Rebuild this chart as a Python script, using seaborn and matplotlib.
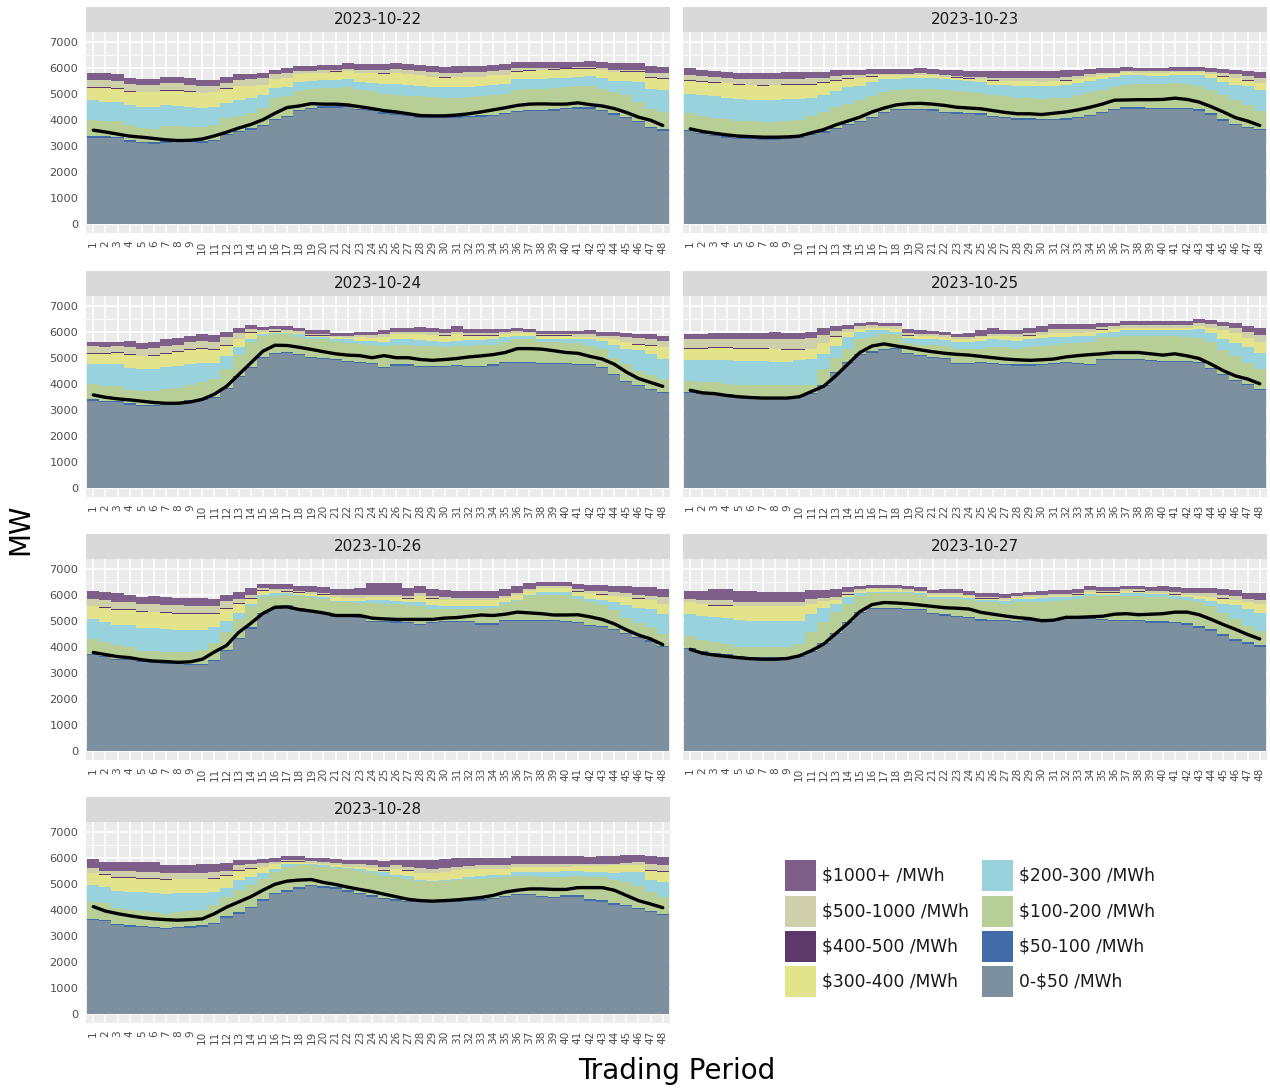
import numpy as np
import pandas as pd
import matplotlib
matplotlib.use("Agg")
import matplotlib.pyplot as plt
from matplotlib.patches import Rectangle
import seaborn as sns

days = ["2023-10-22", "2023-10-23", "2023-10-24", "2023-10-25",
        "2023-10-26", "2023-10-27", "2023-10-28"]
periods = list(range(1, 49))

tiers = ["$1000+ /MWh", "$500-1000 /MWh", "$400-500 /MWh", "$300-400 /MWh",
         "$200-300 /MWh", "$100-200 /MWh", "$50-100 /MWh", "0-$50 /MWh"]
tier_colors = ["#7D5F8A", "#D0CFAB", "#5E376B", "#E3E38C",
               "#98D2DC", "#B7CF96", "#426CA7", "#7C909F"]

# Cumulative offer levels (MW) per day: top edge of each price band
gray_top = [
    [3300,3300,3280,3150,3100,3080,3120,3130,3140,3120,3180,3400, 3530,3620,3750,3980,4100,4330,4400,4450,4460,4480,4360,4330,
     4230,4200,4130,4080,4060,4050,4080,4100,4120,4150,4220,4300, 4330,4340,4350,4400,4420,4430,4330,4200,4050,3900,3680,3580],
    [3550,3450,3380,3300,3250,3250,3230,3230,3250,3280,3400,3500, 3650,3800,3900,4050,4250,4370,4380,4380,4350,4250,4230,4220,
     4200,4100,4050,4000,4000,3980,3980,4000,4050,4150,4250,4380, 4430,4420,4420,4410,4420,4400,4350,4200,3950,3800,3680,3600],
    [3350,3300,3280,3200,3150,3150,3200,3250,3330,3380,3450,3800, 4250,4600,5000,5150,5180,5100,5000,4950,4900,4850,4800,4750,
     4600,4700,4700,4650,4650,4650,4680,4650,4650,4700,4780,4800, 4780,4750,4750,4750,4730,4720,4600,4350,4050,3900,3750,3650],
    [3650,3620,3600,3550,3500,3470,3470,3470,3470,3500,3600,3900, 4400,4800,5100,5200,5300,5330,5150,5050,5000,4950,4750,4750,
     4780,4750,4720,4700,4700,4730,4750,4780,4750,4730,4900,4920, 4900,4900,4880,4850,4850,4850,4780,4550,4350,4120,3950,3750],
    [3700,3600,3500,3500,3420,3380,3350,3320,3300,3300,3450,3850, 4300,4700,5250,5450,5550,5450,5350,5300,5150,5150,5100,4950,
     4950,4930,4900,4820,4920,4950,4950,4950,4850,4850,5000,5000, 5000,5000,4970,4950,4900,4800,4750,4650,4500,4330,4200,4000],
    [3900,3800,3720,3670,3600,3580,3560,3550,3560,3620,3800,4100, 4500,4900,5300,5450,5450,5450,5420,5400,5250,5200,5150,5100,
     5000,4980,4970,4950,4970,5000,5000,5050,5050,5050,5020,5000, 5000,4980,4930,4930,4900,4850,4720,4620,4420,4220,4120,4000],
    [3600,3550,3400,3350,3330,3280,3250,3280,3300,3350,3450,3700, 3850,4050,4350,4600,4700,4800,4900,4850,4800,4700,4600,4500,
     4400,4350,4300,4280,4280,4280,4300,4320,4350,4420,4480,4550, 4550,4480,4450,4500,4500,4350,4300,4200,4150,4020,3900,3800],
]

blue_mw = [
    [60,60,60,60,50,50,50,50,50,50,50,50, 50,50,50,50,60,60,60,60,60,60,50,50,
     50,50,50,50,50,50,50,50,50,50,50,50, 50,50,50,60,60,60,60,60,60,60,60,50],
    [60,50,50,60,60,60,60,60,50,50,50,50, 50,40,40,40,40,50,50,50,50,60,50,50,
     50,50,50,50,50,50,50,50,50,50,40,40, 60,60,50,50,50,50,50,50,60,50,50,40],
    [50,50,50,50,50,50,50,50,40,40,40,40, 40,40,40,40,40,40,40,40,40,40,40,40,
     50,50,40,40,40,40,40,40,40,40,40,40, 40,40,40,40,40,40,40,40,60,60,60,50],
    [50,50,40,40,40,40,40,40,40,40,40,40, 40,40,40,50,50,50,50,40,40,40,40,40,
     40,40,50,50,40,40,40,40,40,40,40,40, 40,40,40,40,40,40,40,40,40,40,40,40],
    [40,40,40,40,40,40,40,40,40,40,40,40, 40,40,40,40,40,40,40,40,40,40,40,40,
     40,40,40,40,40,40,40,40,50,50,40,40, 40,40,40,40,40,40,40,40,40,40,40,40],
    [40,40,40,40,40,40,40,40,40,40,40,40, 40,40,40,40,40,40,40,40,50,50,50,50,
     50,50,50,50,50,50,40,40,40,40,40,40, 40,40,40,40,50,50,60,60,60,60,60,50],
    [60,60,60,60,60,60,60,60,60,60,60,60, 60,60,60,60,60,60,60,60,60,60,60,60,
     50,50,50,50,50,50,50,50,50,50,50,50, 50,50,50,50,50,60,60,60,50,50,50,40],
]

green_top = [
    [3980,3970,3950,3800,3700,3650,3750,3760,3740,3720,3800,4050, 4150,4250,4450,4850,4900,5100,5200,5220,5230,5250,5150,5100,
     5000,4950,4920,4900,4880,4850,4850,4870,4900,4950,5000,5150, 5180,5200,5230,5250,5280,5300,5200,5050,4950,4700,4400,4300],
    [4250,4150,4080,4020,3950,3950,3920,3920,3950,3980,4150,4280, 4500,4620,4750,4900,5050,5150,5200,5200,5180,5150,5120,5080,
     5030,4950,4900,4850,4820,4800,4820,4850,4950,5050,5150,5250, 5350,5380,5380,5380,5400,5380,5300,5150,4950,4750,4550,4350],
    [4000,3920,3900,3750,3720,3720,3780,3850,3950,4050,4200,4550, 5100,5600,5850,5900,5900,5800,5700,5700,5600,5580,5520,5500,
     5450,5500,5480,5450,5450,5420,5450,5450,5470,5500,5600,5700, 5700,5600,5600,5580,5550,5450,5350,5000,4750,4500,4350,4200],
    [4100,4050,4050,4000,3970,3950,3950,3950,3950,3950,3950,4550, 5000,5350,5700,5800,5900,5900,5550,5500,5480,5450,5350,5350,
     5350,5400,5400,5350,5400,5450,5500,5550,5580,5600,5800,5800, 5850,5850,5850,5850,5850,5800,5750,5600,5300,5050,4800,4550],
    [4300,4180,4050,4000,3850,3820,3800,3780,3780,3870,4150,4550, 5050,5550,5900,5950,5980,5950,5900,5850,5720,5700,5680,5680,
     5650,5650,5600,5550,5450,5450,5450,5450,5450,5500,5650,5750, 5950,6000,6000,5980,5850,5700,5600,5400,5100,4900,4750,4500],
    [4400,4250,4200,4100,4000,3980,3980,3980,4000,4100,4550,4950, 5350,5650,5950,6050,6080,6080,6050,6000,5850,5850,5820,5800,
     5700,5700,5650,5700,5700,5720,5750,5800,5850,5950,5950,5950, 5950,5950,5900,5900,5850,5800,5700,5550,5300,5050,4800,4600],
    [4300,4250,4050,4000,3950,3900,3850,3900,3950,4000,4200,4500, 4750,4950,5200,5450,5650,5700,5700,5650,5600,5550,5500,5420,
     5300,5250,5200,5100,5080,5100,5150,5180,5200,5220,5250,5300, 5300,5250,5250,5250,5280,5250,5250,5150,5050,4900,4700,4500],
]

cyan_top = [
    [4750,4700,4680,4550,4500,4480,4550,4530,4500,4470,4500,4650, 4750,4850,4950,5220,5250,5450,5500,5530,5530,5550,5450,5400,
     5380,5380,5350,5300,5270,5250,5250,5270,5280,5330,5380,5550, 5560,5580,5600,5600,5650,5680,5620,5500,5480,5450,5200,5150],
    [5000,4950,4900,4850,4780,4760,4750,4760,4780,4800,4850,4950, 5100,5250,5300,5450,5550,5580,5600,5620,5600,5550,5520,5500,
     5450,5350,5330,5300,5300,5280,5300,5330,5400,5500,5550,5650, 5700,5700,5680,5680,5720,5700,5700,5620,5450,5350,5280,5150],
    [4750,4750,4750,4600,4580,4580,4650,4700,4750,4800,4800,5050, 5400,5700,5900,5950,5950,5900,5800,5800,5700,5700,5650,5630,
     5600,5700,5700,5680,5650,5620,5650,5680,5680,5700,5800,5850, 5850,5700,5700,5700,5700,5700,5650,5500,5350,5300,5150,4950],
    [4900,4900,4920,4900,4880,4880,4880,4850,4850,4900,4950,5150, 5450,5800,6000,6050,6050,6000,5750,5700,5700,5680,5600,5620,
     5650,5700,5680,5650,5700,5750,5800,5800,5820,5830,5950,5980, 6050,6050,6050,6050,6050,6050,6100,5950,5700,5550,5400,5200],
    [5050,4950,4850,4830,4730,4720,4680,4650,4630,4650,4750,5000, 5300,5650,6000,6050,6050,6000,5950,5900,5770,5750,5750,5800,
     5780,5760,5700,5720,5600,5580,5570,5570,5580,5580,5700,5800, 5980,6100,6120,6100,5950,5850,5800,5700,5600,5500,5450,5250],
    [5250,5200,5150,5100,5020,5000,5000,5000,5000,5000,5250,5500, 5650,5900,6050,6100,6120,6120,6100,6050,5920,5930,5900,5880,
     5800,5800,5750,5820,5850,5870,5900,5900,5950,6020,6000,6000, 6080,6080,6030,6030,5950,5900,5850,5750,5650,5600,5450,5300],
    [4950,4870,4730,4700,4670,4650,4600,4630,4630,4630,4700,4850, 5150,5250,5400,5550,5750,5750,5750,5700,5650,5600,5550,5500,
     5450,5350,5300,5150,5120,5150,5200,5250,5300,5330,5350,5450, 5450,5450,5450,5480,5500,5450,5450,5400,5450,5450,5150,5050],
]

yellow_top = [
    [5220,5210,5200,5080,5060,5050,5120,5110,5080,5020,5050,5200, 5280,5300,5330,5550,5600,5750,5780,5800,5850,5880,5800,5780,
     5770,5780,5750,5700,5650,5620,5630,5640,5630,5700,5720,5850, 5880,5900,5930,5950,5950,5950,5900,5830,5850,5850,5620,5580],
    [5500,5450,5420,5400,5350,5320,5300,5320,5330,5330,5350,5420, 5500,5580,5600,5650,5700,5700,5700,5720,5700,5650,5620,5580,
     5570,5500,5480,5470,5470,5450,5470,5500,5570,5650,5700,5750, 5820,5800,5800,5800,5820,5820,5820,5750,5650,5600,5500,5400],
    [5150,5150,5200,5100,5050,5080,5150,5230,5300,5330,5300,5450, 5700,5950,5980,6000,5980,5950,5850,5850,5780,5760,5780,5760,
     5800,5900,5900,5900,5880,5850,5900,5850,5850,5850,5900,5950, 5950,5850,5850,5850,5800,5800,5750,5700,5600,5500,5450,5400],
    [5350,5350,5380,5380,5350,5350,5350,5320,5300,5300,5320,5550, 5800,5980,6100,6150,6150,6100,5850,5820,5820,5800,5720,5720,
     5780,5820,5820,5800,5850,5880,5950,5950,5950,5970,6080,6100, 6150,6150,6150,6150,6150,6150,6220,6150,6050,5950,5750,5600],
    [5550,5500,5430,5420,5330,5320,5300,5270,5250,5250,5250,5450, 5650,5850,6150,6150,6120,6080,6020,6000,5900,5880,5880,5900,
     5900,5900,5850,5950,5850,5800,5780,5780,5800,5800,5880,5980, 6150,6250,6250,6250,6120,6050,6000,5950,5900,5850,5800,5650],
    [5700,5650,5580,5580,5550,5550,5550,5550,5550,5550,5650,5750, 5800,6000,6150,6200,6180,6180,6150,6100,5970,5980,5970,5950,
     5850,5850,5800,5870,5900,5920,5950,5950,6000,6100,6080,6080, 6130,6120,6070,6070,6000,5980,5950,5920,5850,5800,5700,5650],
    [5400,5330,5230,5220,5200,5180,5150,5170,5170,5170,5200,5300, 5500,5580,5650,5750,5850,5850,5800,5750,5720,5650,5650,5600,
     5500,5550,5500,5420,5400,5450,5520,5550,5550,5550,5550,5650, 5650,5650,5650,5650,5680,5670,5680,5700,5700,5700,5500,5450],
]

dpurple_mw = [
    [30,30,30,25,25,25,25,25,25,25,25,25, 20,15,15,15,10,10,10,10,10,10,10,10,
     10,10,10,10,10,10,10,10,10,10,10,20, 20,20,20,20,20,20,20,20,20,20,40,40],
    [30,30,30,30,30,30,40,30,30,30,30,30, 20,20,15,15,10,10,10,10,10,10,10,10,
     10,10,10,10,10,10,10,10,10,10,10,10, 10,10,10,10,10,10,10,10,20,20,30,30],
    [30,30,30,30,30,30,30,30,30,30,30,30, 30,20,15,10,10,10,10,10,10,10,10,10,
     10,10,10,10,10,10,10,10,10,10,10,10, 10,10,10,10,10,10,10,10,20,20,30,30],
    [30,30,30,30,30,30,30,30,30,30,30,30, 30,20,15,10,10,10,10,10,10,10,10,10,
     10,10,10,10,10,10,10,10,10,10,10,10, 10,10,10,10,10,10,10,10,10,10,10,10],
    [30,30,30,30,30,30,30,30,30,30,30,30, 30,20,15,10,10,10,10,10,10,10,10,10,
     10,10,10,10,10,10,10,10,10,10,10,10, 10,10,10,10,10,10,10,10,10,10,10,10],
    [10,10,10,10,10,10,10,10,10,10,10,10, 10,10,10,10,10,10,10,10,10,10,10,10,
     10,10,10,10,10,10,10,10,10,10,10,10, 10,10,10,10,10,10,10,10,10,10,10,10],
    [30,30,30,30,30,30,30,30,30,30,30,30, 20,10,10,10,10,10,10,10,10,10,10,10,
     10,10,10,10,10,10,10,10,10,10,10,10, 10,10,10,10,10,10,10,10,10,10,30,30],
]

beige_top = [
    [5530,5520,5500,5370,5350,5350,5400,5400,5350,5300,5300,5400, 5520,5560,5600,5760,5800,5870,5880,5900,5930,5950,5920,5900,
     5900,5950,5920,5870,5820,5800,5810,5830,5830,5880,5920,5980, 5980,5990,6000,6000,6020,6020,5980,5900,5920,5920,5800,5780],
    [5720,5680,5650,5620,5570,5560,5550,5570,5580,5580,5590,5600, 5680,5720,5720,5740,5770,5770,5770,5780,5760,5720,5690,5650,
     5640,5620,5600,5600,5600,5590,5600,5630,5680,5740,5780,5800, 5880,5860,5860,5860,5890,5890,5890,5850,5800,5760,5680,5600],
    [5450,5430,5450,5400,5350,5380,5450,5500,5600,5650,5620,5800, 5950,6100,6080,6100,6080,6020,5920,5920,5850,5850,5870,5880,
     5920,6000,6000,6000,5980,5960,6000,5950,5950,5950,5980,6020, 6000,5900,5900,5900,5900,5900,5850,5830,5780,5750,5700,5650],
    [5700,5700,5720,5720,5720,5720,5720,5700,5700,5720,5750,5880, 6020,6100,6230,6250,6230,6200,5950,5920,5900,5880,5800,5800,
     5850,5900,5900,5900,5950,6000,6100,6100,6100,6100,6180,6200, 6250,6250,6250,6250,6250,6260,6330,6280,6200,6150,6000,5880],
    [5850,5800,5720,5700,5650,5650,5620,5600,5580,5580,5550,5750, 5850,6000,6250,6230,6200,6150,6100,6080,5980,5980,5980,6000,
     6000,6000,5950,6050,5950,5900,5880,5880,5880,5880,5950,6080, 6200,6330,6330,6330,6200,6150,6150,6100,6050,6000,5950,5900],
    [5830,5800,5800,5800,5720,5720,5700,5700,5700,5720,5820,5880, 5920,6100,6200,6250,6250,6250,6200,6150,6050,6050,6050,6000,
     5930,5930,5880,5950,5980,6000,6020,6030,6080,6180,6150,6150, 6200,6200,6150,6150,6100,6080,6050,6050,5980,5950,5850,5800],
    [5600,5500,5480,5470,5450,5450,5420,5430,5430,5430,5450,5480, 5700,5750,5800,5850,5930,5920,5870,5820,5800,5750,5750,5720,
     5650,5700,5650,5600,5580,5600,5650,5680,5700,5700,5700,5750, 5750,5750,5750,5750,5760,5750,5770,5770,5800,5850,5750,5700],
]

total_top = [
    [5780,5780,5760,5620,5580,5580,5650,5650,5600,5520,5530,5650, 5760,5770,5800,5930,5990,6050,6060,6100,6120,6170,6140,6130,
     6150,6180,6150,6100,6050,6030,6050,6060,6060,6120,6150,6200, 6200,6200,6200,6200,6230,6250,6230,6170,6180,6180,6060,6030],
    [5990,5900,5870,5850,5800,5800,5780,5800,5820,5820,5830,5830, 5900,5930,5930,5950,5950,5950,5950,5970,5950,5930,5900,5880,
     5880,5880,5880,5880,5880,5880,5880,5900,5920,5950,5970,5970, 6020,6000,6000,5990,6020,6020,6020,5990,5960,5930,5870,5820],
    [5600,5600,5620,5630,5580,5600,5700,5750,5850,5900,5880,6000, 6150,6250,6180,6200,6200,6150,6050,6050,5950,5950,5980,6000,
     6050,6150,6150,6180,6150,6120,6200,6100,6100,6100,6100,6150, 6120,6020,6020,6020,6020,6050,6000,5980,5950,5930,5900,5850],
    [5900,5920,5950,5950,5950,5950,5950,5970,5950,5950,6000,6130, 6230,6250,6350,6370,6350,6330,6100,6050,6020,6000,5920,5950,
     6050,6130,6080,6070,6150,6200,6300,6300,6280,6280,6340,6340, 6400,6400,6400,6400,6400,6400,6470,6440,6380,6350,6230,6130],
    [6150,6100,6050,6000,5900,5950,5900,5880,5880,5880,5850,6000, 6100,6270,6420,6400,6400,6350,6320,6300,6200,6200,6250,6450,
     6450,6450,6250,6350,6200,6170,6150,6150,6150,6150,6200,6320, 6450,6480,6480,6480,6400,6380,6380,6350,6330,6300,6280,6200],
    [6150,6150,6200,6200,6150,6150,6120,6120,6120,6120,6170,6180, 6200,6300,6350,6380,6380,6380,6320,6280,6180,6200,6200,6150,
     6080,6080,6020,6080,6120,6150,6180,6180,6220,6320,6300,6300, 6350,6350,6300,6320,6280,6250,6250,6250,6200,6170,6080,6080],
    [5950,5850,5820,5820,5850,5820,5700,5720,5730,5750,5770,5800, 5930,5930,5950,6000,6080,6080,6000,5970,5950,5920,5920,5900,
     5870,5920,5920,5920,5900,5950,6000,6000,6000,5980,5970,6050, 6050,6050,6050,6050,6050,6020,6050,6050,6100,6120,6050,6020],
]

demand = [
    [3600,3530,3450,3370,3330,3280,3230,3200,3210,3260,3380,3520, 3680,3820,4000,4250,4470,4530,4620,4600,4600,4570,4500,4430,
     4350,4300,4230,4160,4150,4150,4180,4230,4300,4380,4460,4550, 4600,4610,4600,4600,4650,4580,4530,4430,4280,4100,3980,3780],
    [3650,3550,3480,3420,3370,3350,3330,3330,3340,3370,3500,3620, 3800,3950,4100,4300,4450,4570,4620,4630,4600,4550,4480,4450,
     4420,4350,4280,4230,4230,4200,4250,4300,4380,4480,4600,4750, 4760,4770,4770,4780,4830,4780,4680,4500,4300,4080,3950,3780],
    [3570,3480,3420,3380,3330,3280,3250,3250,3300,3400,3600,3900, 4350,4800,5250,5480,5470,5400,5320,5230,5150,5100,5080,5000,
     5080,5000,5000,4930,4900,4930,4970,5030,5070,5120,5200,5350, 5350,5330,5270,5200,5170,5050,4950,4750,4450,4200,4050,3900],
    [3750,3650,3620,3550,3500,3470,3450,3450,3450,3500,3700,3900, 4300,4750,5200,5450,5530,5450,5380,5300,5230,5170,5130,5100,
     5050,5000,4950,4920,4900,4920,4950,5030,5080,5120,5150,5200, 5200,5200,5150,5100,5150,5070,4970,4750,4500,4300,4180,4000],
    [3780,3700,3620,3580,3500,3450,3430,3400,3420,3520,3800,4050, 4550,4900,5280,5520,5530,5430,5370,5300,5200,5200,5200,5100,
     5070,5050,5050,5050,5050,5100,5120,5170,5220,5200,5250,5330, 5300,5270,5220,5220,5230,5150,5050,4880,4650,4450,4300,4080],
    [3900,3750,3680,3630,3580,3540,3520,3520,3550,3650,3850,4100, 4500,4900,5350,5620,5700,5680,5650,5600,5550,5500,5480,5450,
     5320,5250,5180,5120,5080,5000,5020,5130,5130,5150,5170,5250, 5270,5230,5250,5270,5330,5330,5230,5050,4850,4670,4470,4300],
    [4120,3950,3850,3770,3700,3650,3620,3600,3620,3650,3850,4100, 4300,4500,4750,4980,5100,5140,5160,5050,4970,4870,4780,4700,
     4600,4500,4400,4350,4330,4350,4380,4420,4470,4550,4680,4750, 4800,4800,4780,4780,4850,4850,4850,4750,4550,4350,4220,4080],
]


def band_table(i):
    """Long table of MW offered in each price band for one day."""
    g = np.array(gray_top[i], float)
    b = np.array(blue_mw[i], float)
    gr = np.array(green_top[i], float)
    cy = np.array(cyan_top[i], float)
    ye = np.array(yellow_top[i], float)
    dp = np.array(dpurple_mw[i], float)
    be = np.array(beige_top[i], float)
    tt = np.array(total_top[i], float)
    widths = {
        "0-$50 /MWh": g,
        "$50-100 /MWh": b,
        "$100-200 /MWh": gr - g - b,
        "$200-300 /MWh": cy - gr,
        "$300-400 /MWh": ye - cy,
        "$400-500 /MWh": dp,
        "$500-1000 /MWh": be - ye - dp,
        "$1000+ /MWh": tt - be,
    }
    frames = [pd.DataFrame({"period": periods, "tier": t,
                            "mw": np.clip(w, 0, None)}) for t, w in widths.items()]
    return pd.concat(frames, ignore_index=True)


sns.set_theme(style="darkgrid")
plt.rcParams["font.family"] = ["DejaVu Sans"]

W, H = 1270, 1090
fig = plt.figure(figsize=(W / 100, H / 100), dpi=100)

col_x = [86, 683]
row_bottom = [233, 497, 760, 1023]
panel_w, panel_h, strip_h = 584, 201, 25
palette = dict(zip(tiers, tier_colors))

for i, day in enumerate(days):
    r, c = divmod(i, 2)
    ax = fig.add_axes([col_x[c] / W, 1 - row_bottom[r] / H, panel_w / W, panel_h / H])
    ax.set_facecolor("#EBEBEB")
    ax.set_axisbelow(True)

    sns.histplot(data=band_table(i), x="period", weights="mw", hue="tier",
                 hue_order=tiers, palette=palette, multiple="stack",
                 discrete=True, shrink=1, alpha=1, linewidth=0,
                 legend=False, ax=ax)
    sns.lineplot(x=periods, y=demand[i], color="black", linewidth=2.4, ax=ax)

    ax.set_xlim(0.4, 48.6)
    ax.set_ylim(-351, 7371)
    ax.set_xticks(periods)
    ax.set_xticklabels([str(p) for p in periods], rotation=90,
                       fontsize=7.6, color="#4D4D4D")
    ax.set_yticks(range(0, 8000, 1000))
    ax.set_yticks(range(500, 7500, 1000), minor=True)
    ax.grid(which="major", color="white", linewidth=1.1)
    ax.grid(which="minor", axis="y", color="white", linewidth=0.55)
    ax.grid(which="minor", axis="x", visible=False)
    for s in ax.spines.values():
        s.set_visible(False)
    ax.tick_params(axis="both", which="major", length=3.5, width=1.1,
                   color="#333333", pad=2)
    ax.tick_params(which="minor", length=0)
    if c == 0:
        ax.set_yticklabels([str(v) for v in range(0, 8000, 1000)],
                           fontsize=8.2, color="#4D4D4D")
    else:
        ax.tick_params(axis="y", left=False, labelleft=False)
    ax.set_xlabel("")
    ax.set_ylabel("")

    ax.add_patch(Rectangle((0, 1), 1, strip_h / panel_h, transform=ax.transAxes,
                           facecolor="#D9D9D9", edgecolor="none", clip_on=False))
    ax.text(0.5, 1 + strip_h / panel_h / 2, day, transform=ax.transAxes,
            ha="center", va="center", fontsize=11, color="#1A1A1A")

# Price-band key: two columns of four swatches
key_x = [785, 982]
key_y = [860, 896, 931, 966]
swatch = 31
for k, (label, col) in enumerate(zip(tiers, tier_colors)):
    kc, kr = divmod(k, 4)
    x0, y0 = key_x[kc], key_y[kr]
    fig.patches.append(Rectangle((x0 / W, 1 - (y0 + swatch) / H), swatch / W, swatch / H,
                                 transform=fig.transFigure, facecolor=col,
                                 edgecolor="none"))
    fig.text((x0 + swatch + 6) / W, 1 - (y0 + swatch / 2) / H, label,
             ha="left", va="center", fontsize=12.3, color="#1A1A1A")

fig.text(20 / W, 1 - 529 / H, "MW", rotation=90, ha="center", va="center",
         fontsize=20, color="black")
fig.text(677 / W, 1 - 1071 / H, "Trading Period", ha="center", va="center",
         fontsize=20, color="black")

fig.savefig("out.png", dpi=100, facecolor="white")
